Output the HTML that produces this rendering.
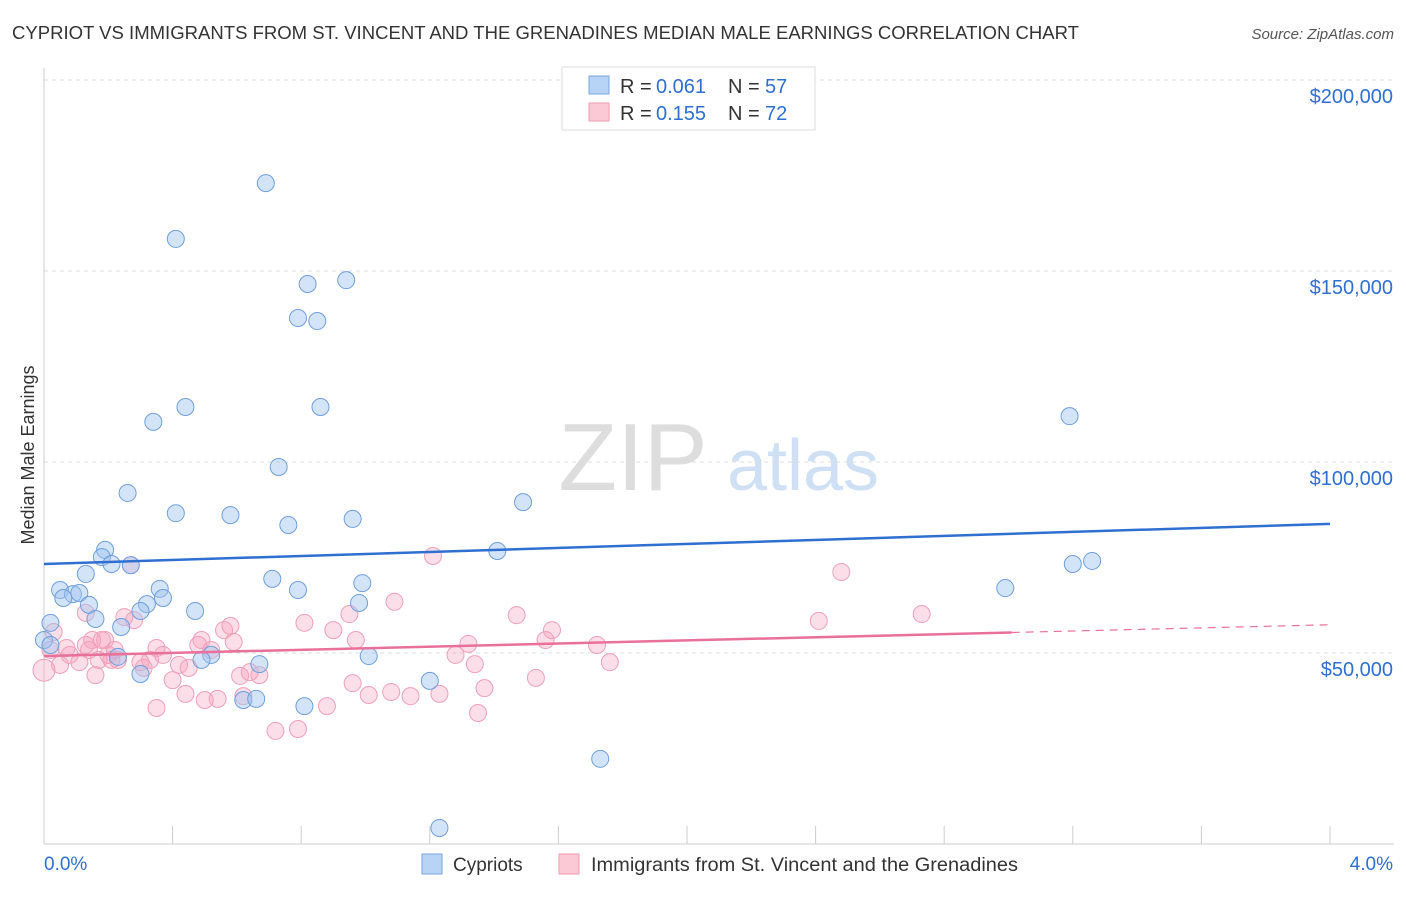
<!DOCTYPE html>
<html><head><meta charset="utf-8"><style>
body{margin:0;background:#fff;font-family:"Liberation Sans",sans-serif;}
svg text{font-family:"Liberation Sans",sans-serif;}
</style></head><body>
<svg id="chart" width="1406" height="892">
<text x="12" y="39" font-size="18" fill="#333" textLength="1067" lengthAdjust="spacingAndGlyphs">CYPRIOT VS IMMIGRANTS FROM ST. VINCENT AND THE GRENADINES MEDIAN MALE EARNINGS CORRELATION CHART</text>
<text x="1394" y="39" font-size="15" fill="#555" font-style="italic" text-anchor="end">Source: ZipAtlas.com</text>
<text x="34" y="455" font-size="18" fill="#333" transform="rotate(-90 34 455)" text-anchor="middle">Median Male Earnings</text>
<g><text x="633" y="490" font-size="96" fill="#ddd" font-family="Liberation Serif" text-anchor="middle">ZIP</text><text x="803" y="490" font-size="72" fill="#cfe0f5" text-anchor="middle">atlas</text></g>
<g id="grid"></g><g id="marks"></g>
<g>
<rect x="562" y="67" width="253" height="63" fill="#fff" stroke="#ddd"/>
<rect x="589" y="76" width="20" height="18" fill="#b7d3f5" stroke="#7aa6e0"/>
<text x="620" y="93" font-size="20" fill="#333">R =</text><text x="656" y="93" font-size="20" fill="#2f6fd0">0.061</text>
<text x="728" y="93" font-size="20" fill="#333">N =</text><text x="765" y="93" font-size="20" fill="#2f6fd0">57</text>
<rect x="589" y="103" width="20" height="18" fill="#fbc9d6" stroke="#ec9ab2"/>
<text x="620" y="120" font-size="20" fill="#333">R =</text><text x="656" y="120" font-size="20" fill="#2f6fd0">0.155</text>
<text x="728" y="120" font-size="20" fill="#333">N =</text><text x="765" y="120" font-size="20" fill="#2f6fd0">72</text>
</g>
<g>
<rect x="422" y="854" width="20" height="20" fill="#b7d3f5" stroke="#7aa6e0"/>
<text x="453" y="871" font-size="19" fill="#333">Cypriots</text>
<rect x="559" y="854" width="20" height="20" fill="#fbc9d6" stroke="#ec9ab2"/>
<text x="591" y="871" font-size="19" fill="#333" textLength="427" lengthAdjust="spacingAndGlyphs">Immigrants from St. Vincent and the Grenadines</text>
</g>
</svg>
<script>
const yTicks=[50000,100000,150000,200000];
const yTickLabels=["$50,000","$100,000","$150,000","$200,000"];
const xTickLabels=["0.0%","4.0%"];
const blueX=[0.69,0.41,0.82,0.94,0.79,0.85,0.44,0.86,0.34,3.19,0.73,0.26,0.41,0.58,0.76,0.96,1.49,0.19,0.18,0.21,0.27,1.41,0.13,0.05,0.09,0.11,0.06,0.14,0.36,0.37,0.32,0.30,0.47,0.71,0.79,0.99,0.98,2.99,3.20,3.26,0.16,0.24,0.02,0.00,0.02,0.52,0.49,0.67,0.30,0.23,0.62,0.66,0.81,1.01,1.20,1.73,1.23];
const blueY=[173.0,158.4,146.6,147.6,137.7,136.9,114.4,114.4,110.5,112.0,98.7,91.9,86.6,86.1,83.5,85.1,89.5,77.0,75.1,73.3,73.0,76.7,70.7,66.5,65.4,65.7,64.4,62.6,66.8,64.4,62.8,61.0,61.0,69.4,66.5,68.3,63.1,67.0,73.3,74.1,58.9,56.8,57.9,53.4,52.1,49.5,48.2,47.1,44.5,49.0,37.7,38.0,36.1,49.2,42.7,22.3,4.2];
const pinkX=[0.00,0.05,0.02,0.03,0.08,0.11,0.13,0.16,0.17,0.20,0.23,0.25,0.27,0.13,0.15,0.19,0.22,0.28,0.31,0.33,0.35,0.35,0.37,0.40,0.42,0.44,0.45,0.48,0.49,0.52,0.54,0.56,0.58,0.59,0.61,0.62,0.64,0.67,0.72,0.79,0.81,0.88,0.90,0.95,0.96,0.97,1.01,1.08,1.09,1.14,1.21,1.23,1.28,1.32,1.34,1.35,1.37,1.47,1.53,1.56,1.58,1.72,1.76,2.41,2.48,2.73,0.18,0.07,0.14,0.30,0.50,0.21];
const pinkY=[45.5,46.9,50.8,55.5,49.5,47.6,52.1,44.2,48.2,49.5,48.2,59.4,73.0,60.5,53.4,53.4,50.8,58.6,46.1,48.2,51.3,35.6,49.5,42.9,46.9,39.3,46.1,52.1,53.4,50.8,38.0,56.0,57.1,52.9,44.0,38.7,45.0,44.2,29.6,30.1,57.9,36.1,56.0,60.2,42.1,53.4,39.0,39.8,63.4,38.7,75.4,39.3,49.5,52.4,47.1,34.3,40.8,59.9,43.5,53.4,56.0,52.1,47.6,58.4,71.2,60.2,53.4,51.3,50.8,47.6,37.7,48.2];
const blueTrend=[73.3,83.8];
const pinkTrend=[49.2,57.4];
const pinkSolidEnd=3.01;
const NS="http://www.w3.org/2000/svg";
const xs=v=>44+v/4*1286;
const ys=v=>844-v/50000*191;
const yk=v=>ys(v*1000);
function mk(tag,attrs,parent){const e=document.createElementNS(NS,tag);for(const k in attrs)e.setAttribute(k,attrs[k]);parent.appendChild(e);return e;}
const grid=document.getElementById('grid'),marks=document.getElementById('marks');
yTicks.forEach((t,i)=>{
 const l=mk('line',{x1:44,x2:1394,y1:ys(t),y2:ys(t),stroke:'#ddd','stroke-dasharray':'4,4'},grid);
 
 
 const tx=mk('text',{x:1393,y:ys(t)+23,'font-size':20,fill:'#2f6fd0','text-anchor':'end'},grid);
 tx.textContent=yTickLabels[i];
 
 
});
const axl=mk('line',{x1:44,x2:44,y1:68,y2:844,stroke:'#ccc'},grid);


const axb=mk('line',{x1:44,x2:1394,y1:844,y2:844,stroke:'#ccc'},grid);


for(let i=0;i<=10;i++){const t=mk('line',{x1:xs(i*0.4),x2:xs(i*0.4),y1:826,y2:844,stroke:'#ccc'},grid);
 
 }
xTickLabels.forEach((s,i)=>{const t=mk('text',{x:i?1393:44,y:870,'font-size':19,fill:'#2f6fd0','text-anchor':i?'end':'start'},grid);t.textContent=s;
 
 });
pinkX.forEach((x,i)=>{const c=mk('circle',{cx:xs(x),cy:yk(pinkY[i]),r:i==0?11:8.5,fill:'rgba(247,160,188,0.35)',stroke:'#eea0b8','stroke-width':1},marks);
 
 });
blueX.forEach((x,i)=>{const c=mk('circle',{cx:xs(x),cy:yk(blueY[i]),r:8.5,fill:'rgba(160,195,240,0.45)',stroke:'#6f9fdc','stroke-width':1},marks);
 
 });
const bt=mk('line',{x1:xs(0),y1:yk(blueTrend[0]),x2:xs(4),y2:yk(blueTrend[1]),stroke:'#2f6fd0','stroke-width':2.5},marks);


const pm=pinkTrend[0]+(pinkTrend[1]-pinkTrend[0])*pinkSolidEnd/4;
const pt=mk('line',{x1:xs(0),y1:yk(pinkTrend[0]),x2:xs(pinkSolidEnd),y2:yk(pm),stroke:'#e8709a','stroke-width':2.5},marks);


const pd=mk('line',{x1:xs(pinkSolidEnd),y1:yk(pm),x2:xs(4),y2:yk(pinkTrend[1]),stroke:'#e8709a','stroke-width':1.2,'stroke-dasharray':'8,6'},marks);


</script>
</body></html>
